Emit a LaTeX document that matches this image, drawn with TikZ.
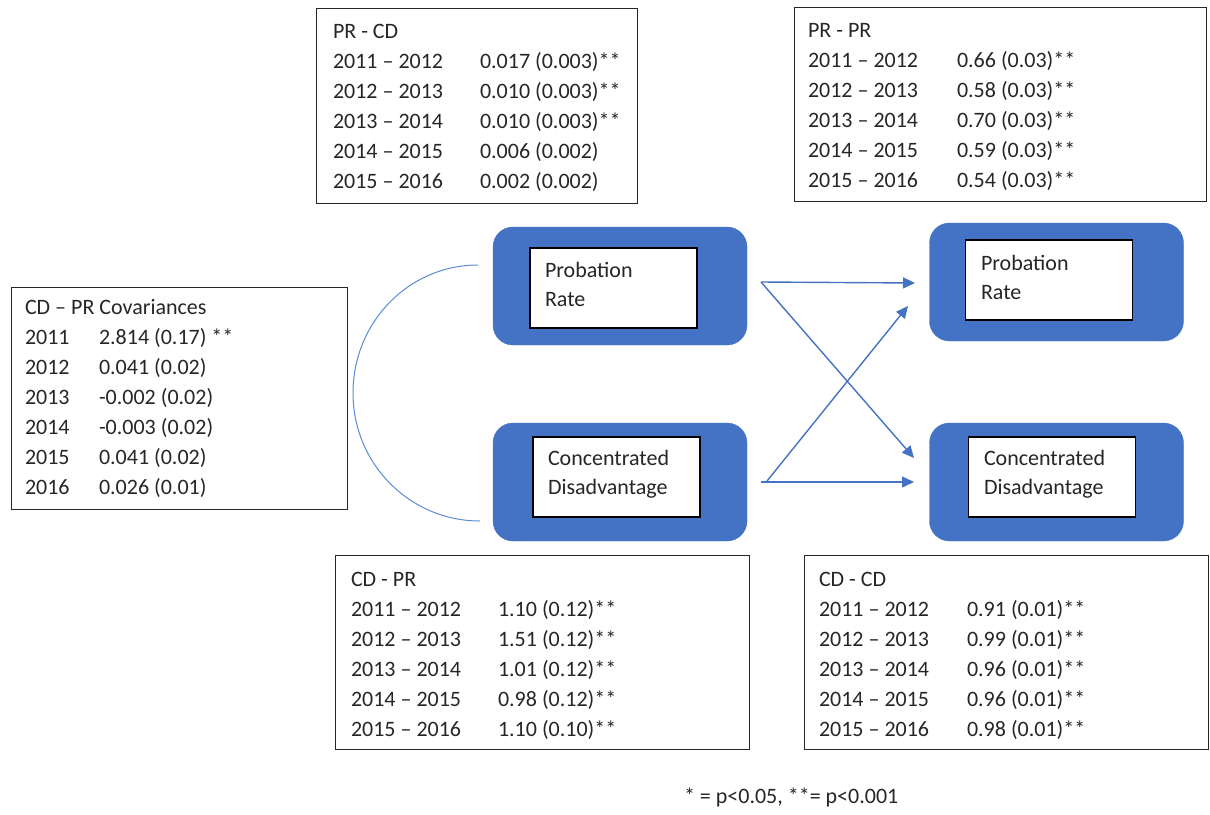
\documentclass[tikz,border=0pt]{standalone}
\usepackage{fontspec}
\setmainfont{Carlito}
\usetikzlibrary{arrows.meta}
\definecolor{accent}{HTML}{4472C4}
\definecolor{curveblue}{HTML}{5B8BD6}
\definecolor{ink}{HTML}{262626}

\begin{document}
\begin{tikzpicture}[x=1pt,y=-1pt,
  txt/.style={inner sep=0pt, outer sep=0pt, text=ink, font=\fontsize{22}{30}\selectfont},
  tbl/.style={draw=ink, line width=1pt, inner sep=0pt, anchor=north west},
  var/.style={fill=accent, draw=accent, rounded corners=20pt, inner sep=0pt,
              minimum width=254pt, minimum height=118pt},
  lbl/.style={draw=black, fill=white, line width=1.4pt, inner sep=0pt,
              minimum width=167pt, minimum height=80pt},
  lbltxt/.style={txt, align=left, anchor=west, font=\fontsize{22}{29}\selectfont},
  path/.style={draw=accent, line width=1.4pt, -{Triangle[length=12pt,width=11pt]}},
  cov/.style={draw=curveblue, line width=1pt}]

\useasboundingbox (0,0) rectangle (1210,814);

% coefficient tables
\node[tbl, minimum width=321pt, minimum height=195pt] (prcd) at (316,8) {};
\node[txt, anchor=north west] (prcdT) at (333,17.5) {%
  \begin{tabular}{@{}p{147pt}@{}l@{}}
  PR - CD & \\
  2011 – 2012 & 0.017 (0.003)**\\
  2012 – 2013 & 0.010 (0.003)**\\
  2013 – 2014 & 0.010 (0.003)**\\
  2014 – 2015 & 0.006 (0.002)\\
  2015 – 2016 & 0.002 (0.002)
  \end{tabular}};

\node[tbl, minimum width=412pt, minimum height=194pt] (prpr) at (794,7) {};
\node[txt, anchor=north west] (prprT) at (808,16) {%
  \begin{tabular}{@{}p{149pt}@{}l@{}}
  PR - PR & \\
  2011 – 2012 & 0.66 (0.03)**\\
  2012 – 2013 & 0.58 (0.03)**\\
  2013 – 2014 & 0.70 (0.03)**\\
  2014 – 2015 & 0.59 (0.03)**\\
  2015 – 2016 & 0.54 (0.03)**
  \end{tabular}};

\node[tbl, minimum width=336pt, minimum height=222pt] (covb) at (11,287) {};
\node[txt, anchor=north west] (covT) at (25,293) {%
  \begin{tabular}{@{}p{74pt}@{}l@{}}
  \multicolumn{2}{@{}l@{}}{CD – PR Covariances}\\
  2011 & 2.814 (0.17) **\\
  2012 & 0.041 (0.02)\\
  2013 & -0.002 (0.02)\\
  2014 & -0.003 (0.02)\\
  2015 & 0.041 (0.02)\\
  2016 & 0.026 (0.01)
  \end{tabular}};

\node[tbl, minimum width=414pt, minimum height=194pt] (cdpr) at (335,555) {};
\node[txt, anchor=north west] (cdprT) at (351,565) {%
  \begin{tabular}{@{}p{147pt}@{}l@{}}
  CD - PR & \\
  2011 – 2012 & 1.10 (0.12)**\\
  2012 – 2013 & 1.51 (0.12)**\\
  2013 – 2014 & 1.01 (0.12)**\\
  2014 – 2015 & 0.98 (0.12)**\\
  2015 – 2016 & 1.10 (0.10)**
  \end{tabular}};

\node[tbl, minimum width=404pt, minimum height=194pt] (cdcd) at (804,555) {};
\node[txt, anchor=north west] (cdcdT) at (819,565) {%
  \begin{tabular}{@{}p{148pt}@{}l@{}}
  CD - CD & \\
  2011 – 2012 & 0.91 (0.01)**\\
  2012 – 2013 & 0.99 (0.01)**\\
  2013 – 2014 & 0.96 (0.01)**\\
  2014 – 2015 & 0.96 (0.01)**\\
  2015 – 2016 & 0.98 (0.01)**
  \end{tabular}};

% latent variables, earlier wave
\node[var] (lpr) at (620,286) {};
\node[lbl] (lprL) at (613.5,288) {};
\node[lbltxt] (lprT) at (545,284) {Probation\\Rate};

\node[var] (lcd) at (620,482) {};
\node[lbl] (lcdL) at (616.5,477) {};
\node[lbltxt] (lcdT) at (548,474) {Concentrated\\Disadvantage};

% latent variables, later wave
\node[var] (rpr) at (1056.5,282) {};
\node[lbl] (rprL) at (1049,280) {};
\node[lbltxt] (rprT) at (981,277) {Probation\\Rate};

\node[var] (rcd) at (1056.5,482) {};
\node[lbl] (rcdL) at (1052,477) {};
\node[lbltxt] (rcdT) at (984,474) {Concentrated\\Disadvantage};

% path endpoints
\coordinate (prOut) at (761,282);
\coordinate (cdOut) at (761,482);
\coordinate (cdOutX) at (767,481);
\coordinate (prIn) at (915,283);
\coordinate (prInX) at (908,306);
\coordinate (cdIn) at (914,458);
\coordinate (cdInH) at (914,482);

% cross-lagged and autoregressive paths
\draw[path] (prOut) -- (prIn);
\draw[path] (prOut) -- (cdIn);
\draw[path] (cdOutX) -- (prInX);
\draw[path] (cdOut) -- (cdInH);

% covariance between the earlier-wave variables
\coordinate (covTop) at (478,265);
\coordinate (covMid) at (353,393);
\coordinate (covBot) at (480,521);
\draw[cov] (covTop) .. controls (409,265) and (353,322) .. (covMid)
           .. controls (353,464) and (410,521) .. (covBot);

% significance note
\node[txt, anchor=west] (note) at (684,797) {* = p<0.05, **= p<0.001};

\end{tikzpicture}
\end{document}
